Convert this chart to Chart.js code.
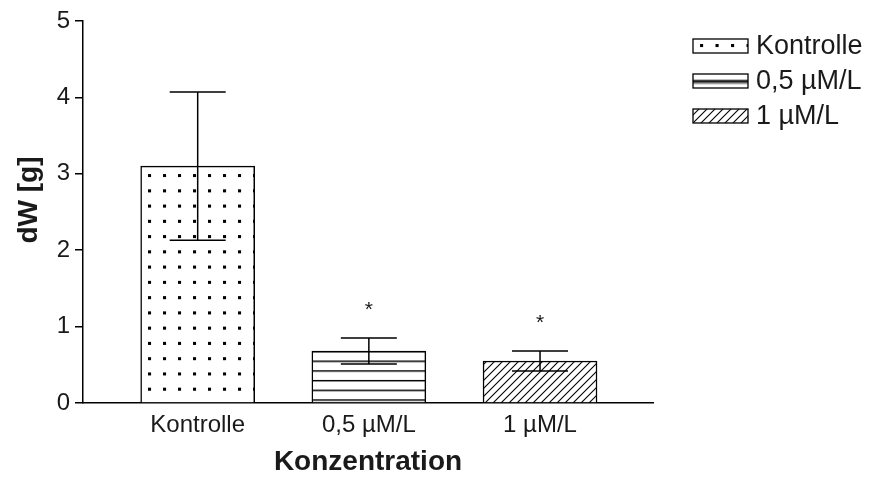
<!DOCTYPE html>
<html>
<head>
<meta charset="utf-8">
<script src="https://cdn.jsdelivr.net/npm/chart.js@4"></script>
<style>
  html, body { margin: 0; padding: 0; background: #fff; }
  #wrap { width: 878px; height: 479px; position: relative; }
</style>
</head>
<body>
<div id="wrap"><canvas id="chart"></canvas></div>
<script>
// data
const categories = ['Kontrolle', '0,5 µM/L', '1 µM/L'];
const means = [3.1, 0.68, 0.55];
const sds = [0.97, 0.17, 0.13];
const significant = [false, true, true];
const yTicks = [0, 1, 2, 3, 4, 5];

const FONT = "'Liberation Sans', Arial, sans-serif";
const INK = '#1a1a1a';

// fill patterns, ox/oy = where the first dot / line sits on the canvas
function dotPattern(ctx, ox, oy, sx, sy) {
    const c = document.createElement('canvas');
    c.width = 15; c.height = 15;
    const g = c.getContext('2d');
    g.fillStyle = '#fff';
    g.fillRect(0, 0, 15, 15);
    g.fillStyle = '#000';
    g.fillRect(0, 0, 3, 3);
    const p = ctx.createPattern(c, 'repeat');
    p.setTransform(new DOMMatrix().translate(ox, oy).scale(sx, sy));
    return p;
}

function linePattern(ctx, oy, step) {
    const c = document.createElement('canvas');
    c.width = 10; c.height = 10;
    const g = c.getContext('2d');
    g.fillStyle = '#fff';
    g.fillRect(0, 0, 10, 10);
    g.fillStyle = '#000';
    g.fillRect(0, 0, 10, 1.5);
    const p = ctx.createPattern(c, 'repeat');
    p.setTransform(new DOMMatrix().translate(0, oy).scale(1, step / 10));
    return p;
}

function hatchPattern(ctx) {
    const s = 8;
    const c = document.createElement('canvas');
    c.width = s; c.height = s;
    const g = c.getContext('2d');
    g.fillStyle = '#fff';
    g.fillRect(0, 0, s, s);
    g.strokeStyle = '#000';
    g.lineWidth = 1.1;
    g.beginPath();
    g.moveTo(0, s); g.lineTo(s, 0);
    g.moveTo(-s / 2, s / 2); g.lineTo(s / 2, -s / 2);
    g.moveTo(s / 2, s + s / 2); g.lineTo(s + s / 2, s / 2);
    g.stroke();
    return ctx.createPattern(c, 'repeat');
}

const canvas = document.getElementById('chart');
const ctx = canvas.getContext('2d');
const fills = [dotPattern(ctx, 148, 174, 1, 15.26 / 15), linePattern(ctx, 360.5, 9.7), hatchPattern(ctx)];

// error bars + asterisks
const errorBars = {
    id: 'errorBars',
    afterDatasetsDraw(chart) {
        const g = chart.ctx;
        const y = chart.scales.y;
        g.save();
        g.strokeStyle = '#000';
        g.lineWidth = 1.5;
        chart.data.datasets.forEach((ds, i) => {
            const bar = chart.getDatasetMeta(i).data[0];
            if (!bar) return;
            const cx = bar.x;
            const hi = y.getPixelForValue(means[i] + sds[i]);
            const lo = y.getPixelForValue(means[i] - sds[i]);
            const half = 28;
            g.beginPath();
            g.moveTo(cx, hi); g.lineTo(cx, lo);
            g.moveTo(cx - half, hi); g.lineTo(cx + half, hi);
            g.moveTo(cx - half, lo); g.lineTo(cx + half, lo);
            g.stroke();
            if (significant[i]) {
                g.fillStyle = INK;
                g.font = '21px ' + FONT;
                g.textAlign = 'center';
                g.textBaseline = 'middle';
                g.fillText('*', cx, hi - 28);
            }
        });
        g.restore();
    }
};

// y title and legend on the right
const extras = {
    id: 'extras',
    afterDraw(chart) {
        const g = chart.ctx;
        g.save();
        g.fillStyle = INK;
        g.font = 'bold 28px ' + FONT;
        g.textAlign = 'center';
        g.textBaseline = 'middle';
        g.translate(29, 200);
        g.rotate(-Math.PI / 2);
        g.fillText('dW [g]', 0, 0);
        g.restore();

        g.save();
        categories.forEach((name, i) => {
            const top = 39 + i * 35;
            const boxFill = [
                dotPattern(g, 700, top + 5, 15.5 / 15, 1),
                linePattern(g, top + 6, 20),
                fills[2]
            ][i];
            g.fillStyle = boxFill;
            g.fillRect(693, top, 55, 14);
            g.strokeStyle = '#000';
            g.lineWidth = 1.3;
            g.strokeRect(693, top, 55, 14);
            g.fillStyle = INK;
            g.font = '27px ' + FONT;
            g.textAlign = 'left';
            g.textBaseline = 'middle';
            g.fillText(name, 756, top + 8);
        });
        g.restore();
    }
};

new Chart(canvas, {
    type: 'bar',
    data: {
        datasets: categories.map((name, i) => ({
            label: name,
            data: [{ x: i, y: means[i] }],
            backgroundColor: fills[i],
            borderColor: '#000',
            borderWidth: 1.5,
            borderSkipped: 'start',
            barThickness: 114,
            grouped: false
        }))
    },
    options: {
        responsive: true,
        maintainAspectRatio: false,
        animation: false,
        layout: { padding: { left: 0, right: 225, top: 21, bottom: 0 } },
        plugins: {
            legend: { display: false },
            tooltip: { enabled: false }
        },
        scales: {
            x: {
                type: 'linear',
                offset: false,
                min: -0.67,
                max: 2.66,
                afterFit(scale) { scale.height = 76; },
                afterBuildTicks(scale) { scale.ticks = [0, 1, 2].map(v => ({ value: v })); },
                grid: { display: false },
                border: { display: true, color: '#000', width: 1.5 },
                ticks: {
                    padding: 0,
                    color: INK,
                    font: { family: FONT, size: 24 },
                    callback: (v) => categories[v]
                },
                title: {
                    display: true,
                    text: 'Konzentration',
                    color: INK,
                    font: { family: FONT, size: 28, weight: 'bold' },
                    padding: { top: 0, bottom: 0 }
                }
            },
            y: {
                min: 0,
                max: 5,
                afterFit(scale) { scale.width = 83; },
                afterBuildTicks(scale) { scale.ticks = yTicks.map(v => ({ value: v })); },
                grid: {
                    display: true,
                    drawOnChartArea: false,
                    drawTicks: true,
                    tickLength: 8,
                    color: '#000',
                    lineWidth: 1.5
                },
                border: { display: true, color: '#000', width: 1.5 },
                ticks: {
                    padding: 5,
                    color: INK,
                    font: { family: FONT, size: 24 }
                }
            }
        }
    },
    plugins: [errorBars, extras]
});
</script>
</body>
</html>
